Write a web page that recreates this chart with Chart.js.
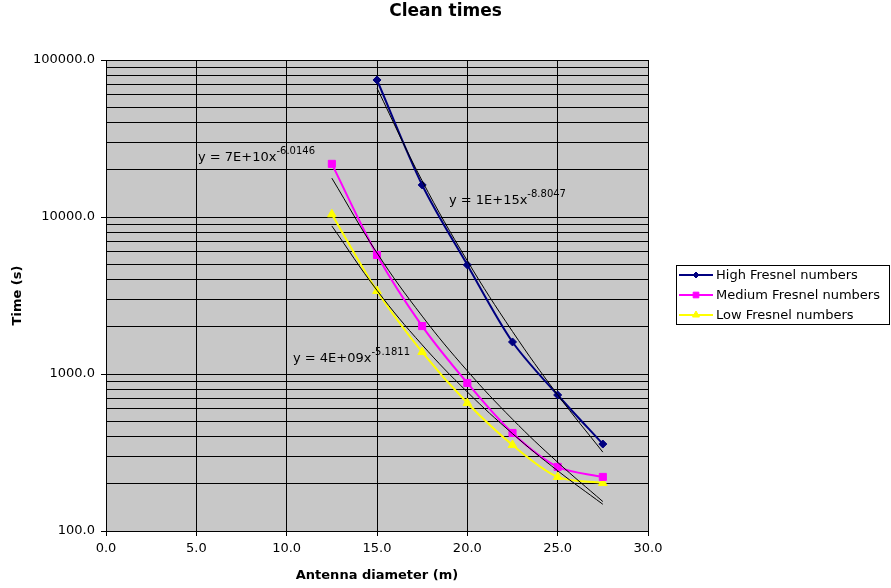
<!DOCTYPE html>
<html>
<head>
<meta charset="utf-8">
<script src="https://cdn.jsdelivr.net/npm/chart.js@4/dist/chart.umd.min.js"></script>
<style>
  html, body { margin: 0; padding: 0; background: #fff; }
  #wrap { width: 891px; height: 588px; }
</style>
</head>
<body>
<div id="wrap"><canvas id="myChart" width="891" height="588"></canvas></div>
<script>
// diameters (m)
const diameters = [12.5, 15, 17.5, 20, 22.5, 25, 27.5];

// clean times (s); null = no point
const highTimes = [null, 74600, 16000, 4950, 1600, 735, 358];
const mediumTimes = [21800, 5730, 2020, 877, 421, 256, 221];
const lowTimes = [10400, 3380, 1380, 653, 353, 221, 202];

// power-law trendlines as drawn on the chart
const highTrend = [null, 66200, 17000, 5260, 1865, 737, 318];
const mediumTrend = [17680, 5900, 2337, 1047, 515, 274, 154];
const lowTrend = [8770, 3410, 1533, 768, 417, 242, 148];

const chartTitle = 'Clean times';
const seriesLabels = ['High Fresnel numbers', 'Medium Fresnel numbers', 'Low Fresnel numbers'];
const xTicks = [0, 5, 10, 15, 20, 25, 30];
const yMajorTicks = [100, 1000, 10000, 100000];

// trendline equations: [x, y, main text, exponent]
const equations = [
    [5.09, 23800, 'y = 7E+10x', '-6.0146'],
    [18.98, 12800, 'y = 1E+15x', '-8.8047'],
    [10.35, 1250, 'y = 4E+09x', '-5.1811']
];

function toPoints(values) {
    const pts = [];
    values.forEach(function(v, i) {
        if (v !== null) pts.push({ x: diameters[i], y: v });
    });
    return pts;
}

// grid lines at 1..9 x each decade
const yGrid = [];
for (let i = 0; i < yMajorTicks.length; i++) {
    for (let m = 1; m <= 9; m++) {
        const v = yMajorTicks[i] * m;
        if (v <= 100000) yGrid.push(v);
    }
}

const FONT = 'Verdana, "DejaVu Sans", sans-serif';
const colors = ['#000080', '#ff00ff', '#ffff00'];
const pointStyles = ['rectRot', 'rect', 'triangle'];
const pointRadii = [4, 5, 5];

function trendSet(values) {
    return {
        data: toPoints(values),
        showLine: true,
        borderColor: '#000000',
        borderWidth: 1,
        pointRadius: 0,
        tension: 0.4,
        order: 0
    };
}

function seriesSet(i, values) {
    return {
        label: seriesLabels[i],
        data: toPoints(values),
        showLine: true,
        borderColor: colors[i],
        backgroundColor: colors[i],
        borderWidth: 2,
        pointStyle: pointStyles[i],
        pointRadius: pointRadii[i],
        pointBorderWidth: 1,
        tension: 0.3,
        order: 1
    };
}

const plotBackground = {
    id: 'plotBackground',
    beforeDraw: function(chart) {
        const a = chart.chartArea;
        const ctx = chart.ctx;
        ctx.save();
        ctx.fillStyle = '#c8c8c8';
        ctx.fillRect(a.left, a.top, a.right - a.left, a.bottom - a.top);
        ctx.strokeStyle = '#808080';
        ctx.lineWidth = 1;
        ctx.strokeRect(a.left + 0.5, a.top + 0.5, a.right - a.left, a.bottom - a.top);
        ctx.restore();
    }
};

const extras = {
    id: 'extras',
    afterDraw: function(chart) {
        const ctx = chart.ctx;
        const xs = chart.scales.x;
        const ys = chart.scales.y;
        ctx.save();

        // title, centred on the whole picture
        ctx.fillStyle = '#000';
        ctx.textAlign = 'center';
        ctx.textBaseline = 'middle';
        ctx.font = 'bold 17px ' + FONT;
        ctx.fillText(chartTitle, chart.width / 2, 12);

        // equation labels
        ctx.textAlign = 'left';
        equations.forEach(function(eq) {
            const px = xs.getPixelForValue(eq[0]);
            const py = ys.getPixelForValue(eq[1]);
            ctx.font = '13px ' + FONT;
            ctx.fillText(eq[2], px, py);
            const w = ctx.measureText(eq[2]).width;
            ctx.font = '10px ' + FONT;
            ctx.fillText(eq[3], px + w, py - 6);
        });

        // legend
        const lx = 676, ly = 265, lw = 214, lh = 60;
        ctx.fillStyle = '#fff';
        ctx.fillRect(lx, ly, lw, lh);
        ctx.strokeStyle = '#000';
        ctx.lineWidth = 1;
        ctx.strokeRect(lx + 0.5, ly + 0.5, lw - 1, lh - 1);
        ctx.font = '13px ' + FONT;
        for (let i = 0; i < 3; i++) {
            const ry = ly + 10 + i * 20;
            ctx.strokeStyle = colors[i];
            ctx.lineWidth = 2;
            ctx.beginPath();
            ctx.moveTo(lx + 3, ry);
            ctx.lineTo(lx + 37, ry);
            ctx.stroke();
            ctx.fillStyle = colors[i];
            ctx.lineWidth = 1;
            Chart.helpers.drawPoint(ctx, {
                pointStyle: pointStyles[i],
                radius: pointRadii[i] - 1,
                rotation: 0,
                borderWidth: 1
            }, lx + 20, ry);
            ctx.fillStyle = '#000';
            ctx.fillText(seriesLabels[i], lx + 40, ry + 1);
        }
        ctx.restore();
    }
};

const ctx = document.getElementById('myChart').getContext('2d');
const myChart = new Chart(ctx, {
    type: 'scatter',
    data: {
        datasets: [
            trendSet(highTrend),
            trendSet(mediumTrend),
            trendSet(lowTrend),
            seriesSet(0, highTimes),
            seriesSet(1, mediumTimes),
            seriesSet(2, lowTimes)
        ]
    },
    options: {
        responsive: false,
        animation: false,
        layout: { padding: { left: 0, right: 243, top: 60, bottom: 0 } },
        plugins: {
            legend: { display: false },
            tooltip: { enabled: false },
            title: { display: false }
        },
        scales: {
            x: {
                type: 'linear',
                min: 0,
                max: 30,
                afterBuildTicks: function(scale) {
                    scale.ticks = xTicks.map(function(v) { return { value: v }; });
                },
                afterFit: function(scale) { scale.height = 57; },
                ticks: {
                    color: '#000',
                    font: { family: FONT, size: 13 },
                    padding: 5,
                    maxRotation: 0,
                    callback: function(v) { return Number(v).toFixed(1); }
                },
                grid: { color: '#000', lineWidth: 1, tickLength: 5, tickColor: '#000' },
                border: { color: '#000', width: 1 },
                title: {
                    display: true,
                    text: 'Antenna diameter (m)',
                    color: '#000',
                    font: { family: FONT, size: 13, weight: 'bold' },
                    padding: { top: 0, bottom: 5 }
                }
            },
            y: {
                type: 'logarithmic',
                min: 100,
                max: 100000,
                afterBuildTicks: function(scale) {
                    scale.ticks = yGrid.map(function(v) { return { value: v }; });
                },
                afterFit: function(scale) { scale.width = 106; },
                ticks: {
                    color: '#000',
                    font: { family: FONT, size: 13 },
                    padding: 6,
                    autoSkip: false,
                    callback: function(v) {
                        return yMajorTicks.indexOf(v) >= 0 ? Number(v).toFixed(1) : '';
                    }
                },
                grid: {
                    color: '#000',
                    lineWidth: 1,
                    tickLength: 5,
                    tickColor: function(c) {
                        return c.tick && yMajorTicks.indexOf(c.tick.value) >= 0 ? '#000' : 'rgba(0,0,0,0)';
                    }
                },
                border: { color: '#000', width: 1 },
                title: {
                    display: true,
                    text: 'Time (s)',
                    color: '#000',
                    font: { family: FONT, size: 13, weight: 'bold' },
                    padding: { top: 10, bottom: 0 }
                }
            }
        }
    },
    plugins: [plotBackground, extras]
});
</script>
</body>
</html>
